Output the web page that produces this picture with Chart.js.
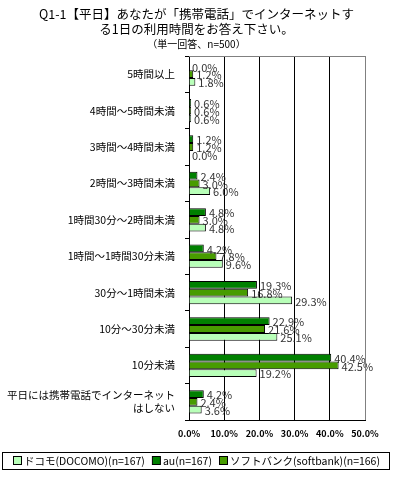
<!DOCTYPE html>
<html>
<head>
<meta charset="utf-8">
<script src="https://cdn.jsdelivr.net/npm/chart.js@4"></script>
<style>
  html, body { margin: 0; padding: 0; background: #fff; }
  #wrap { width: 393px; height: 479px; }
</style>
</head>
<body>
<div id="wrap"><canvas id="usageChart" width="393" height="479"></canvas></div>
<script>
const categories = [
  "5時間以上",
  "4時間～5時間未満",
  "3時間～4時間未満",
  "2時間～3時間未満",
  "1時間30分～2時間未満",
  "1時間～1時間30分未満",
  "30分～1時間未満",
  "10分～30分未満",
  "10分未満",
  ["平日には携帯電話でインターネット", "はしない"]
];
const auValues = [0.0, 0.6, 1.2, 2.4, 4.8, 4.2, 19.3, 22.9, 40.4, 4.2];
const softbankValues = [1.2, 0.6, 1.2, 3.0, 3.0, 7.8, 16.8, 21.6, 42.5, 2.4];
const docomoValues = [1.8, 0.6, 0.0, 6.0, 4.8, 9.6, 29.3, 25.1, 19.2, 3.6];
const xTicks = [0, 10, 20, 30, 40, 50];

const font = "'Noto Sans CJK JP', 'Noto Sans', sans-serif";

// legend order differs from bar order (docomo is listed first)
const legendOrder = [2, 0, 1];

// value labels, grey top/right frame and the boxed one-line legend
const extras = {
  id: "extras",
  afterDatasetsDraw(chart) {
    const ctx = chart.ctx;
    ctx.save();
    ctx.font = "11px " + font;
    ctx.fillStyle = "#333";
    ctx.textAlign = "left";
    ctx.textBaseline = "middle";
    chart.data.datasets.forEach((ds, i) => {
      chart.getDatasetMeta(i).data.forEach((bar, j) => {
        ctx.fillText(ds.data[j].toFixed(1) + "%", bar.x + 3, bar.y + 1);
      });
    });
    const a = chart.chartArea;
    ctx.strokeStyle = "#808080";
    ctx.lineWidth = 1;
    ctx.beginPath();
    ctx.moveTo(a.left, a.top + 0.5);
    ctx.lineTo(a.right + 0.5, a.top + 0.5);
    ctx.lineTo(a.right + 0.5, a.bottom);
    ctx.stroke();
    ctx.restore();
  },
  afterDraw(chart) {
    const ctx = chart.ctx;
    const ds = chart.data.datasets;
    ctx.save();
    ctx.font = "10.5px " + font;
    ctx.textBaseline = "middle";
    ctx.textAlign = "left";
    const box = 8, gap = 3, itemGap = 7;
    const widths = legendOrder.map((i) => ctx.measureText(ds[i].label).width);
    const total = widths.reduce((s, w) => s + w + box + gap, 0) + itemGap * (widths.length - 1);
    let x = Math.round(196 - total / 2);
    const cy = 461;
    legendOrder.forEach((i, k) => {
      ctx.fillStyle = ds[i].backgroundColor;
      ctx.fillRect(x + 0.5, cy - 4.5, box, box);
      ctx.strokeStyle = "#000";
      ctx.lineWidth = 1;
      ctx.strokeRect(x + 0.5, cy - 4.5, box, box);
      ctx.fillStyle = "#000";
      ctx.fillText(ds[i].label, x + box + gap, cy);
      x += box + gap + widths[k] + itemGap;
    });
    ctx.strokeStyle = "#000";
    ctx.strokeRect(2.5, 452.5, 387, 17);
    ctx.restore();
  }
};

new Chart(document.getElementById("usageChart").getContext("2d"), {
  type: "bar",
  data: {
    labels: categories,
    datasets: [
      {
        label: "au(n=167)",
        data: auValues,
        backgroundColor: "#008000",
        borderColor: "#000",
        borderWidth: 1
      },
      {
        label: "ソフトバンク(softbank)(n=166)",
        data: softbankValues,
        backgroundColor: "#479c00",
        borderColor: "#000",
        borderWidth: 1
      },
      {
        label: "ドコモ(DOCOMO)(n=167)",
        data: docomoValues,
        backgroundColor: "#b8ffb8",
        borderColor: "#000",
        borderWidth: 1
      }
    ]
  },
  options: {
    indexAxis: "y",
    responsive: false,
    animation: false,
    devicePixelRatio: 1,
    layout: { padding: { left: 0, right: 0, top: 0, bottom: 32 } },
    datasets: { bar: { categoryPercentage: 0.64, barPercentage: 1 } },
    plugins: {
      title: {
        display: true,
        text: ["Q1-1【平日】あなたが「携帯電話」でインターネットす", "る1日の利用時間をお答え下さい。"],
        color: "#000",
        font: { family: font, size: 12.5, weight: "normal", lineHeight: 1.2 },
        padding: { top: 7, bottom: 1 }
      },
      subtitle: {
        display: true,
        text: "（単一回答、n=500）",
        color: "#000",
        font: { family: font, size: 10, weight: "normal" },
        padding: { top: 0, bottom: 6 }
      },
      legend: { display: false },
      tooltip: { enabled: false }
    },
    scales: {
      x: {
        min: 0,
        max: 50,
        afterBuildTicks: (scale) => { scale.ticks = xTicks.map((v) => ({ value: v })); },
        ticks: {
          color: "#000",
          font: { family: font, size: 9, weight: "bold" },
          padding: 8,
          maxRotation: 0,
          callback: (v) => v.toFixed(1) + "%"
        },
        grid: {
          color: (c) => (c.tick && c.tick.value === 50 ? "#808080" : "#000"),
          drawTicks: false
        },
        border: { color: "#000" },
        afterFit: (scale) => { scale.height = 27; scale.paddingRight = 28; }
      },
      y: {
        ticks: {
          color: "#000",
          font: { family: font, size: 10.5 },
          padding: 10,
          autoSkip: false
        },
        grid: {
          drawOnChartArea: false,
          drawTicks: true,
          tickLength: 4,
          tickColor: "#000",
          offset: true
        },
        border: { color: "#000" },
        afterFit: (scale) => { scale.width = 189; }
      }
    }
  },
  plugins: [extras]
});
</script>
</body>
</html>
